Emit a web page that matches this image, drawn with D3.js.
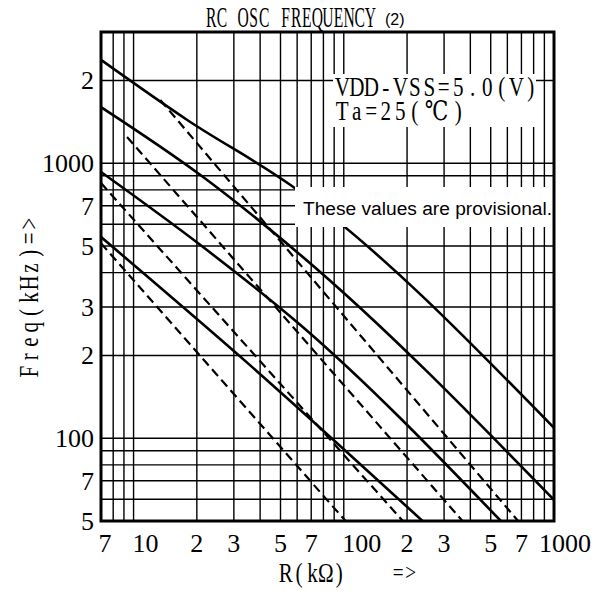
<!DOCTYPE html>
<html><head><meta charset="utf-8">
<script src="https://cdn.jsdelivr.net/npm/d3@7"></script>
<style>body{margin:0;background:#fff}svg{display:block}</style>
</head><body><svg id="c" width="609" height="591"></svg>
<script>
// ---- data ----
const xTickValues = [7, 10, 20, 30, 50, 70, 100, 200, 300, 500, 700, 1000];
const xTickLabels = ["7", "10", "2", "3", "5", "7", "100", "2", "3", "5", "7", "1000"];
const yTickValues = [50, 70, 100, 200, 300, 500, 700, 1000, 2000];
const yTickLabels = ["5", "7", "100", "2", "3", "5", "7", "1000", "2"];
const xGridValues = [8, 9, 10, 20, 30, 40, 50, 60, 70, 80, 90, 100, 200, 300, 400, 500, 600, 700, 800, 900];
const yGridValues = [60, 70, 80, 90, 100, 200, 300, 400, 500, 600, 700, 800, 900, 1000, 2000];

// solid curves (R kOhm, f kHz)
const solidA = [[7, 2375], [18, 1436], [55.8, 833], [1000, 109]];
const solidB = [[7, 1600], [20.8, 906], [62.2, 464], [1000, 59.7]];
const solidC = [[7, 929], [20.8, 504], [62.2, 258], [559, 50]];
const solidD = [[7, 539], [35.9, 184], [237, 50]];
// dashed curves
const dashA = [[13.4, 1698], [675, 50]];
const dashB = [[9.31, 1246], [367, 50]];
const dashC = [[7, 847], [191, 50]];
const dashD = [[7, 512], [102, 50]];

const titleText = "RC OSC FREQUENCY";
const titleSuffix = "(2)";
const condLines = ["VDD-VSS=5.0(V)", "Ta=25(℃)"];
const noteText = "These values are provisional.";
const yLabel = "Freq(kHz)=>";
const xLabel = "R(kΩ)";
const xArrow = "=>";

// ---- layout ----
const L = 101, R = 554, T = 32, B = 521;
const svg = d3.select("#c");
const x = d3.scaleLog().domain([7, 1000]).range([L, R]);
const y = d3.scaleLog().domain([50, 3000]).range([B, T]);

svg.append("defs").append("clipPath").attr("id", "plot").append("rect")
  .attr("x", L).attr("y", T).attr("width", R - L).attr("height", B - T);

const serif = "'Liberation Serif', 'DejaVu Serif', serif";
const sans = "'Liberation Sans', Arial, sans-serif";

function cellPositions(str, cell, sx) {
  const xs = [];
  let pos = 0;
  Array.from(str).forEach(c => {
    const w = (c === "℃") ? 2 : 1;
    xs.push(((pos + w / 2) * cell) / sx);
    pos += w;
  });
  return xs.join(" ");
}
// half-width "mincho"-like monospaced text: each char in its own cell
function monoText(parent, lines, x0, yb, cell, fs, sx, rot, gap) {
  const tr = `translate(${x0},${yb})` + (rot ? ` rotate(${rot})` : "") + ` scale(${sx},1)`;
  const t = parent.append("text").attr("transform", tr)
    .attr("text-anchor", "middle")
    .attr("font-family", serif).attr("font-size", fs);
  [].concat(lines).forEach((s, i) => {
    t.append("tspan").attr("x", cellPositions(s, cell, sx)).attr("y", i * (gap || 0)).text(s);
  });
  return t;
}

// grid
const g = svg.append("g");
g.selectAll("line.vx").data(xGridValues).join("line")
  .attr("x1", d => x(d)).attr("x2", d => x(d)).attr("y1", T).attr("y2", B)
  .attr("stroke", "#000").attr("stroke-width", 1.4);
g.selectAll("line.hy").data(yGridValues).join("line")
  .attr("y1", d => y(d)).attr("y2", d => y(d)).attr("x1", L).attr("x2", R)
  .attr("stroke", "#000").attr("stroke-width", 1.4);

// curves
const line = d3.line().x(d => x(d[0])).y(d => y(d[1])).curve(d3.curveMonotoneX);
const cg = svg.append("g").attr("clip-path", "url(#plot)");
[solidA, solidB, solidC, solidD].forEach(s => {
  cg.append("path").attr("d", line(s)).attr("fill", "none")
    .attr("stroke", "#000").attr("stroke-width", 2.6);
});
[dashA, dashB, dashC, dashD].forEach(s => {
  cg.append("path").attr("d", line(s)).attr("fill", "none")
    .attr("stroke", "#000").attr("stroke-width", 2.2).attr("stroke-dasharray", "9,5");
});

// white annotation boxes
svg.append("rect").attr("x", 333).attr("y", 74).attr("width", 203).attr("height", 53).attr("fill", "#fff");
svg.append("rect").attr("x", 295).attr("y", 187).attr("width", 259).attr("height", 40).attr("fill", "#fff");

monoText(svg, condLines, 335, 96, 14.5, 27, 0.78, 0, 24);

svg.append("text").attr("x", 303).attr("y", 215).text(noteText)
  .attr("font-family", sans).attr("font-size", 18)
  .attr("textLength", 249).attr("lengthAdjust", "spacingAndGlyphs");

// frame
svg.append("rect").attr("x", L).attr("y", T).attr("width", R - L).attr("height", B - T)
  .attr("fill", "none").attr("stroke", "#000").attr("stroke-width", 3);

// title
monoText(svg, titleText, 206, 27, 10.6, 30, 0.52);
svg.append("text").attr("x", 385).attr("y", 25).text(titleSuffix)
  .attr("font-family", sans).attr("font-size", 16);

// axis tick labels
svg.append("g").selectAll("text").data(xTickValues).join("text")
  .attr("x", (d, i) => x(d) + (xTickLabels[i].length > 1 && d < 1000 ? xTickLabels[i].length * 6 : 0) + (d === 1000 ? 11 : 0) + (d === 7 ? 4 : 0))
  .attr("y", 552).attr("text-anchor", "middle")
  .attr("font-family", serif).attr("font-size", 26)
  .text((d, i) => xTickLabels[i]);
svg.append("g").selectAll("text").data(yTickValues).join("text")
  .attr("x", 94).attr("y", d => y(d) + 9).attr("text-anchor", "end")
  .attr("font-family", serif).attr("font-size", 26)
  .text((d, i) => yTickLabels[i]);

// axis titles
monoText(svg, yLabel, 38, 379, 14.8, 27, 0.78, -90);
monoText(svg, xLabel, 279, 582, 13.4, 27, 0.78);
monoText(svg, xArrow, 392, 580, 12.5, 24, 0.8);
</script></body></html>
